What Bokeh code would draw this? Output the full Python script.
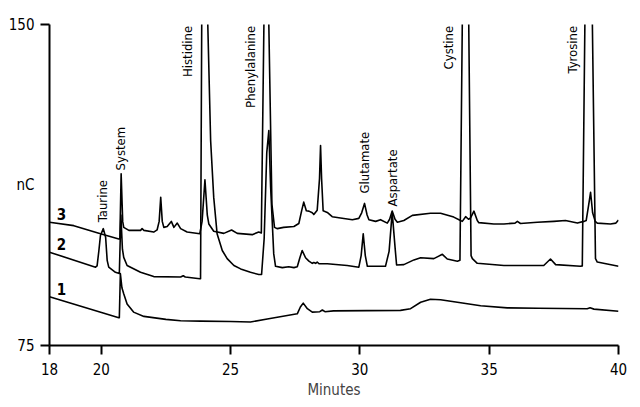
from bokeh.plotting import figure
from bokeh.models import Label, FixedTicker, LinearAxis
from bokeh.embed import file_html
from bokeh.resources import INLINE

# ---- data (minutes, nC) ----
t1 = [18.0, 20.68, 20.70, 20.74, 20.80, 20.87, 21.0, 21.25, 21.65, 22.5, 23.07, 23.84, 25.0,
      25.77, 26.42, 27.58, 27.70, 27.81, 27.97, 28.16, 28.45, 28.55, 28.65, 28.98, 31.57,
      31.96, 32.35, 32.73, 33.12, 33.77, 34.67, 35.70, 36.9, 38.79, 38.9, 39.05, 40.0]
v1 = [86.4, 81.5, 81.5, 91.8, 88.5, 87.1, 84.7, 82.8, 81.8, 81.1, 80.8, 80.7, 80.6,
      80.5, 81.2, 82.4, 84.0, 84.9, 83.6, 82.8, 82.9, 83.3, 82.9, 83.1, 83.2,
      83.6, 85.1, 85.8, 85.7, 85.1, 84.3, 83.8, 83.7, 83.6, 83.8, 83.5, 83.0]

t2 = [18.0, 19.78, 19.84, 19.91, 19.97, 20.08, 20.17, 20.23, 20.29, 20.55, 20.70, 20.76,
      20.82, 20.87, 21.0, 21.52, 22.03, 23.07, 23.17, 23.25, 23.81,
      23.84, 24.0, 24.12, 24.23, 24.35, 24.48, 24.68, 24.87, 25.13, 25.39, 25.77, 26.09, 26.20,
      26.30, 26.40, 26.48, 26.55, 26.67, 26.74, 27.0, 27.25, 27.45, 27.58, 27.68, 27.77,
      27.9, 28.03, 28.16, 28.22, 28.29, 28.35, 28.42, 28.74, 29.51, 29.96, 30.05, 30.13,
      30.21, 30.29, 30.54, 30.99, 31.13, 31.25, 31.36, 31.42, 31.70, 32.09, 32.35, 32.86,
      33.19, 33.38, 33.77, 33.87, 33.96, 34.08, 34.21, 34.30, 34.35, 34.54, 35.57, 37.11,
      37.37, 37.57, 38.53, 38.60, 38.70, 38.85, 38.99, 39.11, 39.18, 40.0]
v2 = [96.8, 93.3, 93.6, 97.2, 100.7, 102.3, 100.3, 94.9, 93.3, 92.1, 91.8, 105.5,
      97.5, 95.6, 93.7, 92.1, 91.1, 91.0, 91.3, 91.0, 90.6,
      90.6, 300.0, 150.0, 122.9, 109.6, 101.1, 97.2, 95.3, 93.7, 92.9, 92.1, 91.6, 91.6,
      100.0, 120.0, 125.2, 112.0, 96.4, 93.5, 93.2, 93.4, 93.2, 93.4, 95.5, 97.2,
      95.5, 94.7, 94.2, 94.4, 94.2, 94.5, 94.1, 94.1, 93.7, 93.3, 96.0, 101.1,
      96.0, 93.5, 93.5, 93.5, 97.0, 106.1, 98.0, 93.8, 93.9, 95.0, 95.5, 95.3,
      96.3, 95.2, 94.7, 94.9, 150.0, 300.0, 150.0, 96.0, 95.3, 94.2, 93.7, 93.7,
      95.2, 93.9, 93.5, 93.6, 150.0, 300.0, 150.0, 95.3, 94.5, 93.5]

t3 = [18.0, 18.94, 19.97, 20.68, 20.72, 20.77, 20.83, 20.87, 21.07, 21.52, 21.58, 21.65,
      22.03, 22.16, 22.24, 22.30, 22.36, 22.42, 22.55, 22.71, 22.81, 22.94, 23.07, 23.32,
      23.81, 23.90, 24.01, 24.10, 24.16, 24.35, 24.74, 25.04, 25.26, 25.84, 26.09, 26.19,
      26.29, 26.38, 26.48, 26.60, 26.70, 26.81, 27.05, 27.45, 27.64, 27.75, 27.83, 27.93,
      28.03, 28.16, 28.22, 28.35, 28.44, 28.48, 28.52, 28.58, 28.74, 28.93, 29.25, 29.71,
      29.96, 30.07, 30.18, 30.28, 30.35, 30.61, 30.80, 31.06, 31.15, 31.25, 31.36, 31.45,
      31.70, 32.03, 32.73, 33.12, 33.63, 33.89, 33.96, 34.09, 34.20, 34.28, 34.41, 34.54,
      34.60, 35.18, 35.57, 36.0, 36.09, 36.21, 36.86, 37.50, 37.95, 38.41, 38.66, 38.75,
      38.85, 38.92, 39.0, 39.10, 39.18, 39.69, 39.90, 40.0]
v3 = [103.8, 103.0, 101.1, 99.9, 99.9, 115.1, 104.0, 102.6, 101.9, 101.9, 102.3, 101.9,
      101.5, 102.0, 104.0, 109.6, 104.0, 102.6, 102.8, 104.0, 102.6, 103.6, 102.3, 101.5,
      101.1, 104.0, 113.7, 105.5, 103.4, 101.7, 101.2, 102.0, 101.2, 100.9, 101.5, 101.3,
      150.0, 300.0, 150.0, 108.0, 102.6, 102.3, 102.6, 102.8, 103.5, 106.5, 108.5, 106.5,
      106.4, 106.0, 105.6, 106.6, 114.0, 121.7, 114.0, 106.5, 106.1, 105.1, 104.8, 104.4,
      104.7, 106.0, 108.2, 105.5, 104.4, 104.0, 104.4, 103.6, 104.5, 106.4, 104.5, 103.8,
      104.2, 105.4, 105.9, 105.9, 105.0, 104.2, 104.0, 105.1, 104.5, 104.8, 106.4, 104.2,
      103.7, 103.4, 103.4, 103.6, 104.0, 103.5, 103.8, 104.0, 104.2, 103.6, 104.0, 104.2,
      108.0, 110.8, 106.0, 104.0, 103.6, 103.4, 103.6, 104.3]

x_ticks = [18, 20, 25, 30, 35, 40]
y_ticks = [75, 150]
y_label_pos = 112.5
y_label = "nC"

# peak labels: lower ones anchored at their foot, tall ones at their top
low_names = ["Taurine", "System", "Glutamate", "Aspartate"]
low_x = [20.03, 20.75, 30.16, 31.26]
low_y = [103.8, 115.9, 110.5, 107.5]
top_names = ["Histidine", "Phenylalanine", "Cystine", "Tyrosine"]
top_x = [23.34, 25.77, 33.41, 38.24]
top_y = [149.7, 149.7, 149.7, 149.7]

trace_names = ["1", "2", "3"]
trace_label_x = [18.46, 18.46, 18.46]
trace_label_y = [88.3, 98.7, 105.8]

FONT = "DejaVu Sans Condensed"
FS = "15px"
LFS = "13px"

p = figure(width=632, height=401, x_range=(18, 40), y_range=(75, 150),
           output_backend="svg", toolbar_location=None,
           min_border_left=49, min_border_right=14, min_border_top=24, min_border_bottom=56)
p.outline_line_color = None
p.grid.visible = False
p.background_fill_color = "white"

for tt, vv in [(t1, v1), (t2, v2), (t3, v3)]:
    p.line(tt, vv, line_color="black", line_width=1.6, line_join="round")

for ax in (p.xaxis[0], p.yaxis[0]):
    ax.axis_line_width = 2
    ax.axis_line_color = "black"
    ax.major_tick_line_width = 2
    ax.major_tick_line_color = "black"
    ax.major_tick_out = 9
    ax.major_tick_in = 0
    ax.minor_tick_line_color = None
    ax.major_label_text_font = FONT
    ax.major_label_text_font_size = FS
    ax.major_label_text_color = "black"

p.xaxis.ticker = FixedTicker(ticks=x_ticks)
p.xaxis.major_label_standoff = 8
p.xaxis.axis_label = "Minutes"
p.xaxis.axis_label_text_font = FONT
p.xaxis.axis_label_text_font_size = FS
p.xaxis.axis_label_text_font_style = "normal"
p.xaxis.axis_label_standoff = 3

# inner left axis: line and tick marks only
p.yaxis.ticker = FixedTicker(ticks=y_ticks)
p.yaxis.major_label_overrides = {t: "" for t in y_ticks}
p.yaxis.major_label_standoff = 0

# outer left axis: tick labels plus the "nC" unit, no marks
lab_ticks = [y_ticks[0], y_label_pos, y_ticks[1]]
ax2 = LinearAxis(ticker=FixedTicker(ticks=lab_ticks),
                 major_label_overrides={y_ticks[0]: str(y_ticks[0]), y_label_pos: y_label,
                                        y_ticks[1]: str(y_ticks[1])},
                 axis_line_color=None, major_tick_line_color=None, minor_tick_line_color=None,
                 major_tick_out=0, major_tick_in=0, major_label_standoff=6,
                 major_label_text_font=FONT, major_label_text_font_size=FS,
                 major_label_text_color="black")
p.add_layout(ax2, "left")

for name, x, y in zip(low_names, low_x, low_y):
    p.add_layout(Label(x=x, y=y, text=name, angle=90, angle_units="deg",
                       text_align="left", text_baseline="middle",
                       text_font=FONT, text_font_size=LFS, text_color="black"))
for name, x, y in zip(top_names, top_x, top_y):
    p.add_layout(Label(x=x, y=y, text=name, angle=90, angle_units="deg",
                       text_align="right", text_baseline="middle",
                       text_font=FONT, text_font_size=LFS, text_color="black"))

for name, x, y in zip(trace_names, trace_label_x, trace_label_y):
    p.add_layout(Label(x=x, y=y, text=name, text_align="center", text_baseline="middle",
                       text_font=FONT, text_font_size="15px", text_font_style="bold",
                       text_color="black"))

open("out.html", "w").write(file_html(p, INLINE))
